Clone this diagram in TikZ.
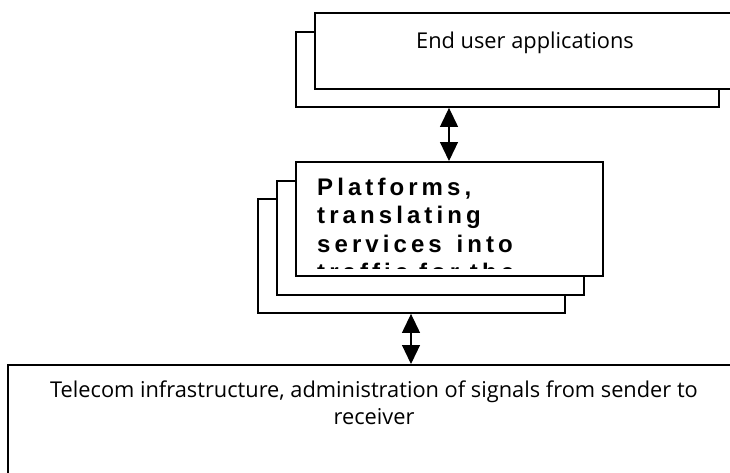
\documentclass[tikz,border=0pt]{standalone}
\usepackage{fontspec}
\setmainfont{Open Sans}
\newfontfamily\platfont{Liberation Sans}[LetterSpace=17]
\usetikzlibrary{arrows.meta}

\tikzset{
  layerbox/.style={draw, line width=1.9pt, fill=white, inner sep=0pt, anchor=north west},
  dbl/.style={line width=1.2pt, {Triangle[length=19pt,width=18pt]}-{Triangle[length=19pt,width=18pt]}},
  lbl/.style={inner sep=0pt, font=\fontsize{21.8}{27}\selectfont},
}

\begin{document}
\begin{tikzpicture}[x=1pt,y=-1pt]
  \useasboundingbox (0,0) rectangle (730,472);

  % top layer: end user applications
  \node[layerbox, minimum width=423pt, minimum height=75pt] (ub) at (295,31) {};
  \node[layerbox, minimum width=423pt, minimum height=76pt] (uf) at (314,12) {};
  \node[lbl, anchor=base] (ut) at (525,48) {End user applications};

  % middle layer: stacked platforms
  \node[layerbox, minimum width=307pt, minimum height=114pt] (p3) at (257,198) {};
  \node[layerbox, minimum width=307pt, minimum height=114pt] (p2) at (276,180) {};
  \node[layerbox, minimum width=307pt, minimum height=114pt] (p1) at (295,161) {};
  \begin{scope}
    % the text frame inside the front box cuts off the overflowing text
    \clip (296,162) rectangle (601,268);
    % base anchor of a multi-line node sits on its last line
    \node[inner sep=0pt, anchor=base west, align=left,
          font=\platfont\bfseries\fontsize{24}{28.5}\selectfont] (pt) at (317,280.5)
      {Platforms,\\translating\\services{\hspace{4pt}} into\\traffic for the};
  \end{scope}

  % bottom layer: telecom infrastructure
  \node[layerbox, minimum width=740pt, minimum height=140pt] (tb) at (7,364) {};
  \node[lbl, anchor=base, align=center] (tt) at (374,424)
    {Telecom infrastructure, administration of signals from sender to\\receiver};

  % connectors between the layers
  \coordinate (c1) at (449,0);
  \coordinate (c2) at (411,0);
  \draw[dbl] (ub.south -| c1) -- (p1.north -| c1);
  \draw[dbl] (p3.south -| c2) -- (tb.north -| c2);
\end{tikzpicture}
\end{document}
